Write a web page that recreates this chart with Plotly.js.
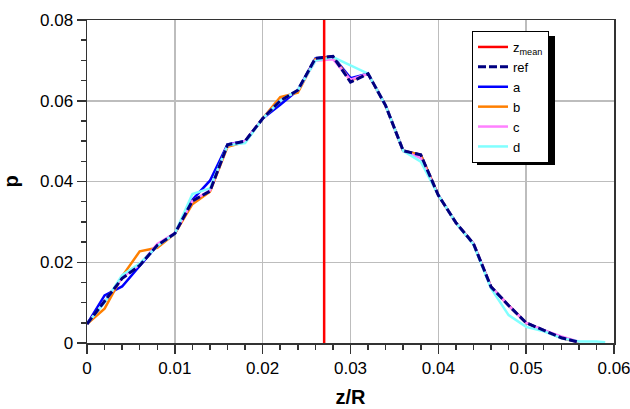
<!DOCTYPE html>
<html>
<head>
<meta charset="utf-8">
<script src="https://cdn.plot.ly/plotly-3.0.1.min.js"></script>
<style>html,body{margin:0;padding:0;background:#fff;}#chart{width:630px;height:409px;}</style>
</head>
<body>
<div id="chart"></div>
<script>
// z/R sample positions
const xVals = [0,0.002,0.004,0.006,0.008,0.010,0.012,0.014,0.016,0.018,0.020,0.022,0.024,0.026,0.028,0.030,0.032,0.034,0.036,0.038,0.040,0.042,0.044,0.046,0.048,0.050,0.052,0.054,0.056];
const xValsD = [0,0.002,0.004,0.006,0.008,0.010,0.012,0.014,0.016,0.018,0.020,0.022,0.024,0.026,0.028,0.030,0.032,0.034,0.036,0.038,0.040,0.042,0.044,0.046,0.048,0.050,0.052,0.054,0.056,0.058,0.059];
const refVals = [0.0047,0.0105,0.0160,0.0192,0.0242,0.0271,0.0352,0.0376,0.0491,0.0500,0.0556,0.0600,0.0626,0.0705,0.0710,0.0646,0.0667,0.0588,0.0476,0.0466,0.0366,0.0298,0.0246,0.0139,0.0093,0.0050,0.0031,0.0013,0.0002];
const aVals = [0.0047,0.0118,0.0140,0.0190,0.0242,0.0271,0.0355,0.0402,0.0492,0.0500,0.0556,0.0590,0.0626,0.0705,0.0710,0.0656,0.0667,0.0588,0.0476,0.0466,0.0366,0.0298,0.0246,0.0139,0.0093,0.0050,0.0031,0.0013,0.0002];
const bVals = [0.0047,0.0085,0.0165,0.0227,0.0236,0.0271,0.0344,0.0375,0.0486,0.0498,0.0556,0.0609,0.0620,0.0703,0.0710,0.0650,0.0667,0.0588,0.0476,0.0466,0.0366,0.0298,0.0246,0.0139,0.0093,0.0050,0.0031,0.0013,0.0002];
const cVals = [0.0047,0.0102,0.0162,0.0194,0.0245,0.0272,0.0352,0.0378,0.0491,0.0500,0.0556,0.0600,0.0626,0.0699,0.0703,0.0652,0.0667,0.0588,0.0476,0.0458,0.0366,0.0298,0.0246,0.0139,0.0093,0.0050,0.0032,0.0016,0.0003];
const dVals = [0.0047,0.0100,0.0168,0.0197,0.0240,0.0271,0.0369,0.0383,0.0490,0.0495,0.0556,0.0600,0.0626,0.0699,0.0708,0.0688,0.0667,0.0588,0.0476,0.0449,0.0366,0.0298,0.0244,0.0135,0.0069,0.0040,0.0029,0.0012,0.0004,0.0004,0.0002];
const zMean = 0.027;
const xTicks = [0,0.01,0.02,0.03,0.04,0.05,0.06];
const xTickText = ['0','0.01','0.02','0.03','0.04','0.05','0.06'];
const yTicks = [0,0.02,0.04,0.06,0.08];
const yTickText = ['0','0.02','0.04','0.06','0.08'];

const traces = [
  {x: xVals, y: aVals, name: 'a', mode: 'lines', line: {color: '#0000ff', width: 2.5}, legendrank: 3},
  {x: xVals, y: bVals, name: 'b', mode: 'lines', line: {color: '#ff7f00', width: 2.5}, legendrank: 4},
  {x: xVals, y: cVals, name: 'c', mode: 'lines', line: {color: '#ff80ff', width: 2.5}, legendrank: 5},
  {x: xValsD, y: dVals, name: 'd', mode: 'lines', line: {color: '#80ffff', width: 2.5}, legendrank: 6},
  {x: xVals, y: refVals, name: 'ref', mode: 'lines', line: {color: '#000080', width: 3, dash: '8px,3px'}, legendrank: 2},
  {x: [zMean, zMean], y: [0, 0.08], name: 'z<sub>mean</sub>', mode: 'lines', line: {color: '#ff0000', width: 2.5}, legendrank: 1}
];

const L = 87, R = 16, T = 20, B = 66, W = 630, H = 409;
const pw = W - L - R, ph = H - T - B;
function px2x(p){ return (p - L) / pw; }
function py2y(p){ return (H - B - p) / ph; }

const layout = {
  width: W, height: H,
  margin: {l: L, r: R, t: T, b: B, pad: 0},
  paper_bgcolor: '#fff', plot_bgcolor: '#fff',
  font: {family: 'Liberation Sans, Arial, sans-serif', color: '#000', size: 17},
  showlegend: true,
  legend: {
    x: px2x(472), y: py2y(31), xanchor: 'left', yanchor: 'top',
    bgcolor: '#fff', bordercolor: '#000', borderwidth: 1,
    font: {size: 13, color: '#000'}, tracegroupgap: 0, itemwidth: 30
  },
  xaxis: {
    range: [0, 0.06], tickmode: 'array', tickvals: xTicks, ticktext: xTickText,
    ticks: 'outside', ticklen: 9, tickwidth: 1.5, tickcolor: '#333',
    showline: true, linecolor: '#333', linewidth: 1.5, mirror: true,
    showgrid: true, gridcolor: '#bdbdbd', gridwidth: 1.5, zeroline: false,
    minor: {dtick: 0.002, tick0: 0, ticks: 'outside', ticklen: 5, tickwidth: 1.5, tickcolor: '#333', showgrid: false},
    tickfont: {size: 17}, ticklabeloverflow: 'allow',
    title: {text: 'z/R', font: {size: 20, weight: 'bold'}, standoff: 13}
  },
  yaxis: {
    range: [0, 0.08], tickmode: 'array', tickvals: yTicks, ticktext: yTickText,
    ticks: 'outside', ticklen: 9, tickwidth: 1.5, tickcolor: '#333',
    showline: true, linecolor: '#333', linewidth: 1.5, mirror: true,
    showgrid: true, gridcolor: '#bdbdbd', gridwidth: 1.5, zeroline: false,
    minor: {dtick: 0.005, tick0: 0, ticks: 'outside', ticklen: 5, tickwidth: 1.5, tickcolor: '#333', showgrid: false},
    tickfont: {size: 17}, ticklabeloverflow: 'allow',
    title: {text: 'p', font: {size: 20, weight: 'bold'}, standoff: 16}
  },
  shapes: [
    {type: 'rect', xref: 'paper', yref: 'paper', layer: 'above',
     x0: px2x(477), x1: px2x(555), y0: py2y(165), y1: py2y(36),
     fillcolor: '#000', line: {width: 0}}
  ]
};

Plotly.newPlot('chart', traces, layout, {displayModeBar: false, staticPlot: true});
</script>
</body>
</html>
